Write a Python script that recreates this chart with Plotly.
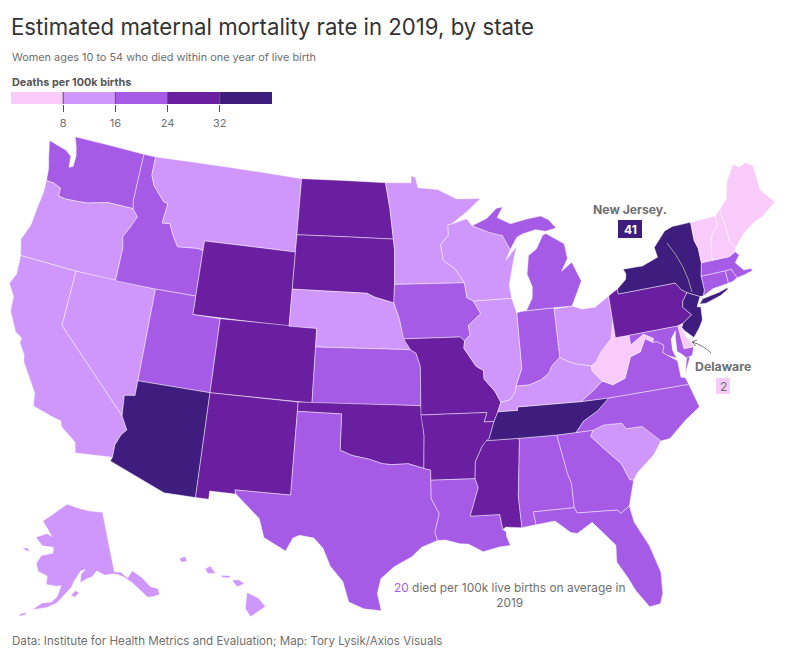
import plotly.graph_objects as go

STATES = ["WA","OR","CA","NV","ID","MT","WY","UT","CO","AZ","NM","ND","SD","NE","KS","OK","TX","MN","IA","MO","AR","LA","MS","AL","GA","FL","SC","NC","TN","KY","VA","WV","OH","IN","IL","WI","MI","PA","NY","NJ","DE","MD","CT","RI","MA","VT","NH","ME","AK","HI"]
RATES = [18,13,12,13,19,13,28,20,27,36,27,28,28,14,20,28,20,14,19,28,28,20,29,21,21,20,13,20,36,13,19,6,13,20,14,14,19,28,35,41,2,20,19,19,19,6,6,6,14,14]
BIN_EDGES = [8,16,24,32]
BIN_COLORS = ["#F8CBFB","#CF97FC","#A55BE6","#6A1FA0","#3E1D7F"]
LEGEND_TICKS = [8,16,24,32]

GEOMETRY = {
"WA":[[(-124.7,48.4),(-123.2,48.15),(-122.7,47.9),(-122.6,47.3),(-122.3,47.4),(-122.3,48.0),(-122.5,48.5),(-122.8,49.0),(-117.03,49.0),(-117.04,46.42),(-116.92,45.99),(-118.98,46.0),(-119.3,45.93),(-120.5,45.7),(-121.2,45.65),(-122.2,45.6),(-122.76,45.65),(-122.8,46.1),(-123.4,46.25),(-124.0,46.27),(-124.1,46.9),(-124.4,47.6)]],
"OR":[[(-124.0,46.27),(-123.4,46.25),(-122.8,46.1),(-122.76,45.65),(-122.2,45.6),(-121.2,45.65),(-120.5,45.7),(-119.3,45.93),(-118.98,46.0),(-116.92,45.99),(-116.46,45.6),(-116.85,44.95),(-117.22,44.4),(-117.03,43.83),(-117.03,42.0),(-120.0,42.0),(-124.21,42.0),(-124.55,42.85),(-124.15,43.7),(-124.07,44.7),(-123.95,45.6)]],
"CA":[[(-124.21,42.0),(-120.0,42.0),(-120.0,39.0),(-114.63,35.0),(-114.14,34.3),(-114.45,34.0),(-114.72,33.4),(-114.72,32.72),(-117.12,32.53),(-117.3,33.1),(-118.4,33.75),(-118.5,34.03),(-119.2,34.15),(-120.5,34.45),(-120.65,35.15),(-121.9,36.6),(-122.0,36.95),(-122.5,37.5),(-122.5,37.8),(-123.0,38.0),(-123.75,39.0),(-123.85,39.8),(-124.4,40.4),(-124.1,41.0)]],
"NV":[[(-120.0,42.0),(-114.04,42.0),(-114.04,36.2),(-114.75,36.1),(-114.63,35.0),(-120.0,39.0)]],
"ID":[[(-117.03,49.0),(-116.05,49.0),(-116.05,48.0),(-115.7,47.45),(-114.7,46.7),(-114.35,46.65),(-114.5,45.56),(-113.9,45.6),(-113.45,44.95),(-113.0,44.45),(-111.5,44.55),(-111.05,44.48),(-111.05,42.0),(-114.04,42.0),(-117.03,42.0),(-117.03,43.83),(-117.22,44.4),(-116.85,44.95),(-116.46,45.6),(-116.92,45.99),(-117.04,46.42)]],
"MT":[[(-116.05,49.0),(-104.05,49.0),(-104.05,45.0),(-111.05,45.0),(-111.05,44.48),(-111.5,44.55),(-113.0,44.45),(-113.45,44.95),(-113.9,45.6),(-114.5,45.56),(-114.35,46.65),(-114.7,46.7),(-115.7,47.45),(-116.05,48.0)]],
"WY":[[(-111.05,45.0),(-104.05,45.0),(-104.05,41.0),(-111.05,41.0)]],
"UT":[[(-114.04,42.0),(-111.05,42.0),(-111.05,41.0),(-109.05,41.0),(-109.05,37.0),(-114.04,37.0)]],
"CO":[[(-109.05,41.0),(-102.05,41.0),(-102.05,37.0),(-109.05,37.0)]],
"AZ":[[(-114.04,37.0),(-109.05,37.0),(-109.05,31.33),(-111.07,31.33),(-114.81,32.5),(-114.72,32.72),(-114.72,33.4),(-114.45,34.0),(-114.14,34.3),(-114.63,35.0),(-114.75,36.1),(-114.04,36.2)]],
"NM":[[(-109.05,37.0),(-103.0,37.0),(-103.04,32.0),(-106.62,32.0),(-106.53,31.78),(-108.21,31.78),(-108.21,31.33),(-109.05,31.33)]],
"ND":[[(-104.05,49.0),(-97.23,49.0),(-96.85,47.6),(-96.56,45.94),(-104.05,45.94)]],
"SD":[[(-104.05,45.94),(-96.56,45.94),(-96.45,45.3),(-96.45,43.5),(-96.5,42.5),(-97.9,42.8),(-98.5,43.0),(-104.05,43.0)]],
"NE":[[(-104.05,43.0),(-98.5,43.0),(-97.9,42.8),(-96.5,42.5),(-96.1,41.7),(-95.9,41.0),(-95.3,40.0),(-102.05,40.0),(-102.05,41.0),(-104.05,41.0)]],
"KS":[[(-102.05,40.0),(-95.3,40.0),(-94.9,39.8),(-94.61,39.1),(-94.62,37.0),(-102.05,37.0)]],
"OK":[[(-103.0,37.0),(-94.62,37.0),(-94.43,35.4),(-94.48,33.64),(-95.5,33.9),(-96.6,33.85),(-97.2,33.9),(-98.1,34.13),(-99.2,34.3),(-100.0,34.56),(-100.0,36.5),(-103.0,36.5)]],
"TX":[[(-103.0,36.5),(-100.0,36.5),(-100.0,34.56),(-99.2,34.3),(-98.1,34.13),(-97.2,33.9),(-96.6,33.85),(-95.5,33.9),(-94.48,33.64),(-94.04,33.55),(-94.04,33.0),(-94.04,32.0),(-93.55,31.2),(-93.85,30.2),(-93.7,29.75),(-94.7,29.4),(-95.3,28.9),(-96.4,28.35),(-97.2,27.7),(-97.4,26.9),(-97.15,25.96),(-98.2,26.05),(-99.1,26.4),(-99.5,27.5),(-100.3,28.3),(-100.8,29.25),(-101.4,29.77),(-102.3,29.88),(-102.7,29.7),(-103.1,28.98),(-104.5,29.6),(-104.9,30.6),(-106.53,31.78),(-106.62,32.0),(-103.04,32.0)]],
"MN":[[(-97.23,49.0),(-95.15,49.0),(-95.15,49.38),(-94.8,49.3),(-94.6,48.72),(-93.0,48.6),(-91.5,48.05),(-89.6,48.0),(-90.8,47.3),(-92.0,46.7),(-92.29,46.66),(-92.29,46.1),(-92.9,45.6),(-92.75,44.75),(-91.9,44.3),(-91.22,43.5),(-96.45,43.5),(-96.45,45.3),(-96.56,45.94),(-96.85,47.6)]],
"IA":[[(-96.45,43.5),(-91.22,43.5),(-91.1,42.7),(-90.64,42.5),(-90.15,41.8),(-91.1,41.2),(-91.0,40.7),(-91.42,40.38),(-91.73,40.61),(-95.77,40.58),(-95.9,41.0),(-96.1,41.7),(-96.5,42.5)]],
"MO":[[(-95.77,40.58),(-91.73,40.61),(-91.42,40.38),(-91.5,40.0),(-90.7,39.0),(-90.2,38.75),(-90.2,38.3),(-89.5,37.6),(-89.15,37.0),(-89.4,36.5),(-89.7,36.0),(-90.37,36.0),(-90.15,36.5),(-94.62,36.5),(-94.62,37.0),(-94.61,39.1),(-94.9,39.8),(-95.3,40.0)]],
"AR":[[(-94.62,36.5),(-90.15,36.5),(-90.37,36.0),(-89.7,36.0),(-90.1,35.1),(-90.6,34.7),(-91.1,33.9),(-91.17,33.0),(-94.04,33.0),(-94.04,33.55),(-94.48,33.64),(-94.43,35.4)]],
"LA":[[(-94.04,33.0),(-91.17,33.0),(-91.0,32.5),(-91.6,31.0),(-89.73,31.0),(-89.6,30.18),(-89.4,30.05),(-89.4,29.8),(-89.2,29.3),(-89.9,29.25),(-90.9,29.05),(-91.8,29.5),(-92.3,29.53),(-93.2,29.77),(-93.7,29.75),(-93.85,30.2),(-93.55,31.2),(-94.04,32.0)]],
"MS":[[(-91.17,33.0),(-91.1,33.9),(-90.6,34.7),(-90.3,35.0),(-88.2,35.0),(-88.1,34.9),(-88.47,31.9),(-88.4,30.2),(-89.4,30.3),(-89.6,30.18),(-89.73,31.0),(-91.6,31.0),(-91.0,32.5)]],
"AL":[[(-88.2,35.0),(-85.6,34.98),(-85.18,32.87),(-85.0,32.3),(-85.0,31.0),(-87.6,31.0),(-87.5,30.3),(-88.0,30.25),(-88.4,30.2),(-88.47,31.9),(-88.1,34.9)]],
"GA":[[(-85.6,34.98),(-83.1,35.0),(-83.35,34.7),(-82.6,34.0),(-81.5,33.0),(-81.1,32.1),(-80.85,32.03),(-81.4,30.7),(-82.05,30.36),(-82.2,30.57),(-84.86,30.7),(-85.0,31.0),(-85.0,32.3),(-85.18,32.87)]],
"FL":[[(-87.6,31.0),(-85.0,31.0),(-84.86,30.7),(-82.2,30.57),(-82.05,30.36),(-81.4,30.7),(-81.25,29.8),(-80.5,28.4),(-80.05,26.9),(-80.15,25.75),(-80.4,25.2),(-81.1,25.13),(-81.8,26.1),(-82.2,26.9),(-82.75,27.8),(-82.65,28.7),(-83.4,29.5),(-84.0,30.1),(-85.0,29.6),(-85.4,29.7),(-86.3,30.4),(-87.5,30.3)]],
"SC":[[(-83.35,34.7),(-83.1,35.0),(-82.3,35.2),(-81.05,35.15),(-80.8,34.82),(-79.67,34.8),(-78.55,33.86),(-79.2,33.2),(-80.5,32.4),(-80.85,32.03),(-81.1,32.1),(-81.5,33.0),(-82.6,34.0)]],
"NC":[[(-84.32,34.99),(-83.1,35.0),(-82.3,35.2),(-81.05,35.15),(-80.8,34.82),(-79.67,34.8),(-78.55,33.86),(-77.9,33.9),(-76.6,34.7),(-75.5,35.25),(-75.87,36.55),(-81.68,36.59),(-82.6,36.0),(-83.7,35.55)]],
"TN":[[(-89.4,36.5),(-88.05,36.5),(-88.07,36.68),(-83.68,36.6),(-81.68,36.59),(-82.6,36.0),(-83.7,35.55),(-84.32,34.99),(-85.6,34.98),(-88.2,35.0),(-90.3,35.0),(-90.1,35.1),(-89.7,36.0)]],
"KY":[[(-89.4,36.5),(-89.15,37.0),(-88.5,37.1),(-88.1,37.5),(-88.03,37.8),(-87.1,37.8),(-86.3,38.0),(-85.7,38.3),(-85.4,38.7),(-84.8,39.1),(-84.2,38.8),(-83.65,38.63),(-82.6,38.42),(-82.6,38.15),(-81.97,37.54),(-82.7,37.1),(-83.68,36.6),(-88.07,36.68),(-88.05,36.5)]],
"VA":[[(-83.68,36.6),(-81.68,36.59),(-75.87,36.55),(-76.0,36.95),(-76.3,37.0),(-76.3,37.9),(-76.95,38.3),(-77.25,38.5),(-77.05,38.85),(-77.5,39.12),(-77.83,39.13),(-78.35,39.4),(-78.87,38.75),(-79.65,38.58),(-80.3,37.5),(-81.25,37.25),(-81.97,37.54),(-82.7,37.1)],[(-75.95,37.15),(-75.4,38.0),(-75.65,37.95)]],
"WV":[[(-82.6,38.42),(-82.2,38.6),(-81.75,39.1),(-80.85,39.7),(-80.52,40.64),(-80.52,39.72),(-79.48,39.72),(-79.48,39.2),(-78.4,39.65),(-77.72,39.32),(-77.83,39.13),(-78.35,39.4),(-78.87,38.75),(-79.65,38.58),(-80.3,37.5),(-81.25,37.25),(-81.97,37.54),(-82.6,38.15)]],
"OH":[[(-84.8,39.1),(-84.8,41.7),(-83.45,41.73),(-82.7,41.5),(-81.7,41.5),(-80.52,41.98),(-80.52,40.64),(-80.85,39.7),(-81.75,39.1),(-82.2,38.6),(-82.6,38.42),(-83.65,38.63),(-84.2,38.8)]],
"IN":[[(-87.53,41.7),(-87.2,41.75),(-86.82,41.76),(-84.8,41.76),(-84.8,39.1),(-85.4,38.7),(-85.7,38.3),(-86.3,38.0),(-87.1,37.8),(-88.03,37.8),(-87.53,38.7)]],
"IL":[[(-90.64,42.5),(-87.8,42.5),(-87.53,41.7),(-87.53,38.7),(-88.03,37.8),(-88.1,37.5),(-88.5,37.1),(-89.15,37.0),(-89.5,37.6),(-90.2,38.3),(-90.2,38.75),(-90.7,39.0),(-91.5,40.0),(-91.42,40.38),(-91.0,40.7),(-91.1,41.2),(-90.15,41.8)]],
"WI":[[(-92.29,46.66),(-92.0,46.7),(-90.8,46.95),(-90.4,46.55),(-89.1,46.13),(-88.1,45.9),(-87.6,45.1),(-88.0,44.55),(-87.1,45.25),(-87.5,44.3),(-87.9,43.2),(-87.8,42.5),(-90.64,42.5),(-91.1,42.7),(-91.22,43.5),(-91.9,44.3),(-92.75,44.75),(-92.9,45.6),(-92.29,46.1)]],
"MI":[[(-86.82,41.76),(-86.3,42.4),(-86.2,43.0),(-86.5,43.7),(-86.25,44.7),(-85.6,45.0),(-85.0,45.7),(-84.75,45.78),(-83.4,45.1),(-83.3,44.3),(-83.9,43.65),(-83.0,44.07),(-82.45,43.0),(-83.15,42.1),(-83.45,41.73),(-84.8,41.76)],[(-90.4,46.55),(-89.2,46.9),(-88.4,47.4),(-87.9,47.45),(-88.4,46.9),(-87.4,46.5),(-86.1,46.67),(-85.0,46.75),(-84.4,46.5),(-83.9,46.0),(-84.75,45.9),(-85.5,46.05),(-86.5,45.9),(-87.0,45.75),(-87.6,45.1),(-88.1,45.9),(-89.1,46.13)]],
"PA":[[(-80.52,41.98),(-80.1,42.15),(-79.76,42.27),(-79.76,42.0),(-75.35,42.0),(-75.05,41.6),(-74.7,41.36),(-75.1,40.97),(-75.2,40.65),(-74.72,40.15),(-75.42,39.8),(-75.79,39.72),(-79.48,39.72),(-80.52,39.72),(-80.52,40.64)]],
"NY":[[(-79.76,42.27),(-79.0,42.7),(-78.9,43.0),(-79.05,43.27),(-77.5,43.25),(-76.2,43.55),(-76.3,44.1),(-75.3,44.85),(-74.7,45.0),(-73.35,45.0),(-73.4,44.0),(-73.25,43.55),(-73.27,42.75),(-73.5,42.05),(-73.5,41.3),(-73.65,41.0),(-73.9,41.0),(-74.7,41.36),(-75.05,41.6),(-75.35,42.0),(-79.76,42.0)],[(-74.03,40.62),(-73.75,40.85),(-72.6,40.98),(-72.0,41.1),(-71.9,41.05),(-72.5,40.8),(-73.6,40.58)]],
"NJ":[[(-74.7,41.36),(-73.9,41.0),(-74.25,40.5),(-74.0,40.45),(-74.1,39.75),(-74.4,39.4),(-74.9,38.93),(-75.4,39.4),(-75.55,39.6),(-75.42,39.8),(-74.72,40.15),(-75.2,40.65),(-75.1,40.97)]],
"DE":[[(-75.79,39.72),(-75.42,39.8),(-75.55,39.6),(-75.4,39.1),(-75.05,38.6),(-75.05,38.45),(-75.7,38.46)]],
"MD":[[(-79.48,39.72),(-75.79,39.72),(-75.7,38.46),(-75.05,38.45),(-75.25,38.03),(-75.65,37.95),(-75.9,38.2),(-76.2,38.4),(-76.1,39.2),(-76.0,39.5),(-76.45,39.1),(-76.5,38.5),(-76.33,38.05),(-76.95,38.3),(-77.25,38.5),(-77.05,38.85),(-77.5,39.12),(-77.83,39.13),(-77.72,39.32),(-78.4,39.65),(-79.48,39.2)]],
"CT":[[(-73.5,42.05),(-71.8,42.02),(-71.8,41.33),(-72.9,41.25),(-73.65,41.0),(-73.5,41.3)]],
"RI":[[(-71.8,42.02),(-71.38,42.02),(-71.13,41.5),(-71.5,41.37),(-71.8,41.33)]],
"MA":[[(-73.5,42.05),(-73.27,42.75),(-72.46,42.73),(-71.3,42.7),(-70.8,42.87),(-70.6,42.65),(-71.0,42.3),(-70.55,41.8),(-70.05,41.78),(-70.0,41.65),(-70.6,41.55),(-71.13,41.5),(-71.38,42.02),(-71.8,42.02)]],
"VT":[[(-73.35,45.0),(-71.5,45.0),(-71.55,44.5),(-72.05,44.1),(-72.35,43.5),(-72.45,43.0),(-72.46,42.73),(-73.27,42.75),(-73.25,43.55),(-73.4,44.0)]],
"NH":[[(-71.5,45.0),(-71.08,45.3),(-71.0,44.3),(-70.98,43.4),(-70.7,43.07),(-70.8,42.87),(-71.3,42.7),(-72.46,42.73),(-72.45,43.0),(-72.35,43.5),(-72.05,44.1),(-71.55,44.5)]],
"ME":[[(-71.08,45.3),(-70.4,45.75),(-70.25,46.2),(-70.0,46.7),(-69.23,47.46),(-68.9,47.2),(-68.3,47.35),(-67.8,47.07),(-67.8,45.7),(-67.45,45.3),(-67.0,44.85),(-68.2,44.3),(-69.0,44.1),(-69.8,43.75),(-70.7,43.07),(-70.98,43.4),(-71.0,44.3)]],
"AK":[[(-141.0,69.65),(-141.0,60.3),(-139.0,60.0),(-137.5,58.9),(-135.5,59.8),(-133.4,58.4),(-131.8,56.6),(-130.0,55.9),(-130.2,55.0),(-131.8,55.0),(-133.5,55.2),(-134.8,56.5),(-136.5,58.0),(-138.5,59.2),(-140.0,59.7),(-141.5,60.0),(-144.0,60.0),(-146.5,60.8),(-148.0,60.0),(-149.5,59.8),(-151.8,59.2),(-151.5,60.5),(-150.0,61.2),(-151.5,61.0),(-153.5,59.6),(-154.5,58.5),(-156.5,57.3),(-158.5,56.0),(-161.0,55.2),(-163.5,54.8),(-164.9,54.6),(-162.5,55.8),(-160.0,56.1),(-158.5,57.0),(-157.5,58.7),(-159.0,58.6),(-162.0,58.7),(-162.0,60.0),(-165.0,60.5),(-166.0,61.7),(-164.8,63.0),(-161.0,63.6),(-161.0,64.5),(-165.0,64.5),(-168.0,65.6),(-164.0,66.5),(-162.0,66.1),(-163.8,67.1),(-166.5,68.3),(-163.0,69.5),(-160.0,70.5),(-156.6,71.35),(-152.0,70.8),(-147.0,70.2)],[(-154.6,57.3),(-153.3,58.0),(-152.2,57.7),(-153.4,57.0)],[(-171.8,63.5),(-170.0,63.7),(-168.8,63.2),(-170.5,63.3)],[(-168.0,53.5),(-166.2,54.0),(-166.4,53.6),(-167.8,53.2)]],
"HI":[[(-155.85,20.27),(-155.2,19.97),(-154.8,19.5),(-155.65,18.95),(-155.95,19.4)],[(-156.7,20.95),(-156.3,20.95),(-156.0,20.75),(-156.4,20.58),(-156.6,20.8)],[(-158.25,21.55),(-157.95,21.7),(-157.65,21.3),(-158.1,21.3)],[(-159.75,22.1),(-159.4,22.22),(-159.3,21.95),(-159.6,21.9)],[(-157.3,21.2),(-156.75,21.17),(-156.9,21.05),(-157.3,21.1)]],
}

W, H = 800, 657
def px(x): return x / W
def py(y): return 1 - y / H

def bin_color(v):
    for edge, c in zip(BIN_EDGES, BIN_COLORS):
        if v < edge:
            return c
    return BIN_COLORS[-1]

def clockwise(ring):
    a = sum(ring[i][0]*ring[(i+1)%len(ring)][1]-ring[(i+1)%len(ring)][0]*ring[i][1] for i in range(len(ring)))
    return ring if a < 0 else ring[::-1]

def east_adjust(lon):
    # the reference draws the mid-Atlantic slightly further west
    if -84 < lon <= -76:
        return lon - 0.45 * (lon + 84) / 8
    if -76 < lon < -69:
        return lon - 0.45 * (-69 - lon) / 7
    return lon

fig = go.Figure()
for st, v in zip(STATES, RATES):
    lons, lats = [], []
    for ring in GEOMETRY[st]:
        r = clockwise(ring)
        r = r + [r[0]]
        if lons:
            lons.append(None); lats.append(None)
        lons += [east_adjust(p[0]) for p in r]
        lats += [p[1] for p in r]
    fig.add_trace(go.Scattergeo(lon=lons, lat=lats, mode="lines", fill="toself",
                                fillcolor=bin_color(v), name=st,
                                line=dict(color="rgba(255,255,255,0.55)", width=0.8),
                                hoverinfo="name", showlegend=False))

prev = 0
for right, c in zip(LEGEND_TICKS + [40], BIN_COLORS):
    fig.add_trace(go.Bar(x=[right - prev], y=[0], base=prev, orientation="h", width=1,
                         marker=dict(color=c, line=dict(width=0)), showlegend=False,
                         hoverinfo="skip", xaxis="x", yaxis="y"))
    prev = right

TXT = "Inter"
GREY = "#6f6f6f"
annos = [
    dict(x=px(8.5), y=py(27), text="Estimated maternal mortality rate in 2019, by state", xanchor="left", yanchor="middle",
         font=dict(family=TXT, size=22.2, color="#333333")),
    dict(x=px(10), y=py(57), text="Women ages 10 to 54 who died within one year of live birth", xanchor="left", yanchor="middle",
         font=dict(family=TXT, size=10.9, color=GREY)),
    dict(x=px(10), y=py(82), text="<b>Deaths per 100k births</b>", xanchor="left", yanchor="middle",
         font=dict(family=TXT, size=10.8, color="#555555")),
    dict(x=px(630), y=py(209), text="<b>New Jersey.</b>", xanchor="center", yanchor="middle",
         font=dict(family=TXT, size=12.2, color=GREY)),
    dict(x=px(630), y=py(229), text="<b>41</b>", xanchor="center", yanchor="middle",
         font=dict(family=TXT, size=12, color="white")),
    dict(x=px(723), y=py(366), text="<b>Delaware</b>", xanchor="center", yanchor="middle",
         font=dict(family=TXT, size=12.3, color=GREY)),
    dict(x=px(723), y=py(386), text="2", xanchor="center", yanchor="middle",
         font=dict(family=TXT, size=12, color=GREY)),
    dict(x=px(509), y=py(595), text=f"<span style='color:{BIN_COLORS[2]}'>20</span> died per 100k live births on average in<br>2019",
         xanchor="center", yanchor="middle", align="center",
         font=dict(family=TXT, size=11.9, color=GREY)),
    dict(x=px(10), y=py(641), text="Data: Institute for Health Metrics and Evaluation; Map: Tory Lysik/Axios Visuals", xanchor="left", yanchor="middle",
         font=dict(family=TXT, size=11.6, color=GREY)),
]
for a in annos:
    a.update(xref="paper", yref="paper", showarrow=False)

shapes = [dict(type="line", xref="x", yref="paper", x0=t, x1=t, y0=py(92), y1=py(104),
               line=dict(color="#555555", width=1), layer="above") for t in LEGEND_TICKS]
def pxpath(pts):
    (x0, y0), (cx, cy), (x1, y1) = pts
    return f"M{px(x0)},{py(y0)} Q{px(cx)},{py(cy)} {px(x1)},{py(y1)}"
shapes += [
    dict(type="path", xref="paper", yref="paper", path=pxpath([(667,243),(686,266),(692,292)]),
         line=dict(color="#9a9a9a", width=1), layer="above"),
    dict(type="path", xref="paper", yref="paper", path=pxpath([(711,353),(703,345),(692,342)]),
         line=dict(color="#777777", width=1), layer="above"),
    dict(type="path", xref="paper", yref="paper", path=f"M{px(697)},{py(340)} L{px(692)},{py(342)} L{px(696)},{py(346)}",
         line=dict(color="#777777", width=1), layer="above"),
    dict(type="rect", xref="paper", yref="paper", x0=px(618), x1=px(642), y0=py(238), y1=py(220),
         fillcolor=BIN_COLORS[4], line=dict(width=0), layer="below"),
    dict(type="rect", xref="paper", yref="paper", x0=px(716), x1=px(730), y0=py(394), y1=py(378),
         fillcolor=BIN_COLORS[0], line=dict(width=0), layer="below"),
]

fig.update_layout(
    width=W, height=H, margin=dict(l=0, r=0, t=0, b=0), paper_bgcolor="white", plot_bgcolor="rgba(0,0,0,0)",
    barmode="overlay", showlegend=False, annotations=annos, shapes=shapes,
    geo=dict(domain=dict(x=[px(1), px(783)], y=[py(648), py(100)]),
             projection=dict(type="albers usa", scale=1.235),
             scope="usa", bgcolor="rgba(0,0,0,0)",
             showland=False, showlakes=False, showcoastlines=False, showsubunits=False,
             showcountries=False, showocean=False, showrivers=False, showframe=False),
    xaxis=dict(domain=[px(11), px(272)], range=[0, 40], tickvals=LEGEND_TICKS, ticks="outside", ticklen=7,
               tickcolor="#555555", tickwidth=1, showgrid=False, zeroline=False, showline=False,
               ticklabelstandoff=2, tickfont=dict(family=TXT, size=11, color=GREY), anchor="y"),
    yaxis=dict(domain=[py(104), py(92)], range=[-0.5, 0.5], visible=False, fixedrange=True),
)
fig.write_html("out.html", config={"displayModeBar": False},
               post_script="document.body.style.margin='0';document.querySelectorAll('g.geo').forEach(function(g){g.removeAttribute('clip-path');g.style.clipPath='none';});")
